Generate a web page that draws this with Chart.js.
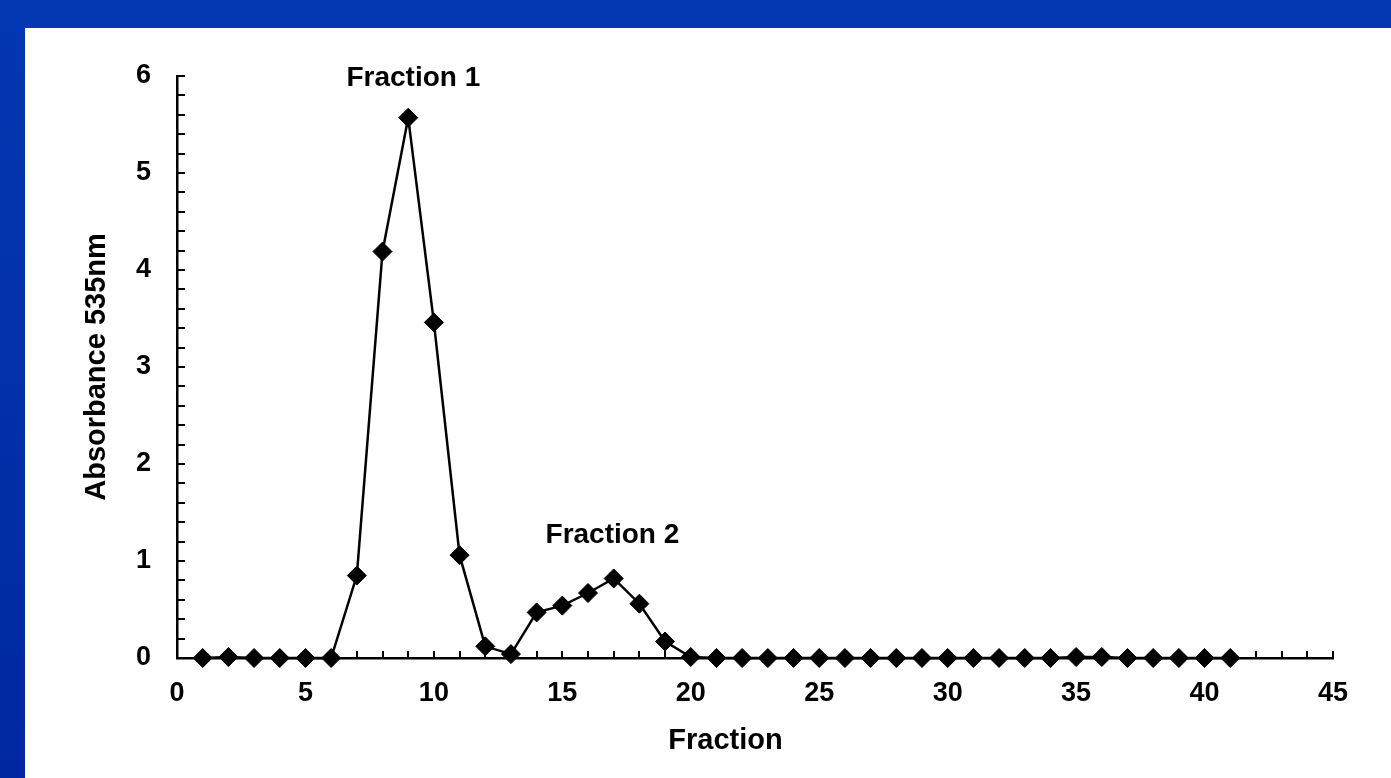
<!DOCTYPE html>
<html>
<head>
<meta charset="utf-8">
<script src="https://cdn.jsdelivr.net/npm/chart.js@4.4.1/dist/chart.umd.min.js"></script>
<style>
  html, body { margin: 0; padding: 0; }
  body {
    width: 1391px; height: 778px; overflow: hidden; position: relative;
    background: linear-gradient(180deg, #0437b2 0%, #0230aa 50%, #0027a1 100%);
  }
  #panel { position: absolute; left: 25px; top: 28px; width: 1366px; height: 750px; background: #fff; }
  canvas { display: block; }
</style>
</head>
<body>
<div id="panel"><canvas id="chart" width="1366" height="750"></canvas></div>
<script>
// fraction number and absorbance at 535 nm
const fractions = [1, 2, 3, 4, 5, 6, 7, 8, 9, 10, 11, 12, 13, 14, 15, 16, 17, 18, 19, 20,
    21, 22, 23, 24, 25, 26, 27, 28, 29, 30, 31, 32, 33, 34, 35, 36, 37, 38, 39, 40, 41];
const absorbance = [0, 0.01, 0, 0, 0, 0, 0.85, 4.19, 5.57, 3.46, 1.06, 0.12, 0.04, 0.47, 0.54, 0.67, 0.82, 0.56, 0.17, 0.01,
    0, 0, 0, 0, 0, 0, 0, 0, 0, 0, 0, 0, 0, 0, 0.01, 0.01, 0, 0, 0, 0, 0];

const xTicks = [0, 5, 10, 15, 20, 25, 30, 35, 40, 45];
const yTicks = [0, 1, 2, 3, 4, 5, 6];

const peakLabels = ["Fraction 1", "Fraction 2"];
const peakLabelX = [9.2, 16.95];
const peakLabelY = [5.98, 1.27];

const FONT = "'Liberation Sans', Arial, Helvetica, sans-serif";

// small inward tick marks, like the original spreadsheet chart
const minorTicks = {
    id: "minorTicks",
    beforeDatasetsDraw(chart) {
        const {ctx, chartArea, scales: {x, y}} = chart;
        ctx.save();
        ctx.strokeStyle = "#000";
        ctx.lineWidth = 2;
        ctx.beginPath();
        for (let v = 1; v <= xTicks[xTicks.length - 1]; v++) {
            const px = Math.round(x.getPixelForValue(v));
            ctx.moveTo(px, chartArea.bottom);
            ctx.lineTo(px, chartArea.bottom - 7);
        }
        for (let i = 1; i <= 30; i++) {
            const py = Math.round(y.getPixelForValue(i * 0.2));
            ctx.moveTo(chartArea.left, py);
            ctx.lineTo(chartArea.left + 8, py);
        }
        ctx.stroke();
        ctx.restore();
    }
};

// peak names and the x axis title (which sits left of centre in the original)
const textLayer = {
    id: "textLayer",
    afterDatasetsDraw(chart) {
        const {ctx, chartArea, scales: {x, y}} = chart;
        ctx.save();
        ctx.fillStyle = "#000";
        ctx.font = "bold 28px " + FONT;
        ctx.textAlign = "center";
        ctx.textBaseline = "middle";
        peakLabels.forEach((t, i) => {
            ctx.fillText(t, x.getPixelForValue(peakLabelX[i]), y.getPixelForValue(peakLabelY[i]));
        });
        ctx.font = "bold 29px " + FONT;
        ctx.fillText("Fraction", x.getPixelForValue(21.35), chartArea.bottom + 83);
        ctx.restore();
    }
};

new Chart(document.getElementById("chart"), {
    type: "line",
    data: {
        labels: fractions,
        datasets: [{
            data: fractions.map((f, i) => ({x: f, y: absorbance[i]})),
            borderColor: "#000",
            borderWidth: 2.5,
            tension: 0,
            pointStyle: "rectRot",
            pointRadius: 9.5,
            pointBorderWidth: 1,
            pointBackgroundColor: "#000",
            pointBorderColor: "#000",
            clip: false
        }]
    },
    options: {
        responsive: false,
        animation: false,
        events: [],
        layout: {padding: {left: 0, right: 58, top: 48, bottom: 0}},
        plugins: {legend: {display: false}, tooltip: {enabled: false}},
        scales: {
            x: {
                type: "linear",
                min: 0,
                max: 45,
                afterBuildTicks: s => { s.ticks = xTicks.map(v => ({value: v})); },
                afterFit: s => { s.height = 120; },
                grid: {display: false, drawTicks: false},
                border: {display: true, color: "#000", width: 2.5},
                ticks: {color: "#000", padding: 19, maxRotation: 0,
                    font: {family: FONT, size: 27, weight: "bold", lineHeight: 1.2}}
            },
            y: {
                min: 0,
                max: 6,
                afterBuildTicks: s => { s.ticks = yTicks.map(v => ({value: v})); },
                afterFit: s => { s.width = 152; },
                grid: {display: false, drawTicks: false},
                border: {display: true, color: "#000", width: 2.5},
                ticks: {color: "#000", padding: 26,
                    font: {family: FONT, size: 27, weight: "bold", lineHeight: 1.2}},
                title: {display: true, text: "Absorbance 535nm", color: "#000", padding: {top: 55, bottom: 0},
                    font: {family: FONT, size: 29, weight: "bold", lineHeight: 1.2}}
            }
        }
    },
    plugins: [minorTicks, textLayer]
});
</script>
</body>
</html>
